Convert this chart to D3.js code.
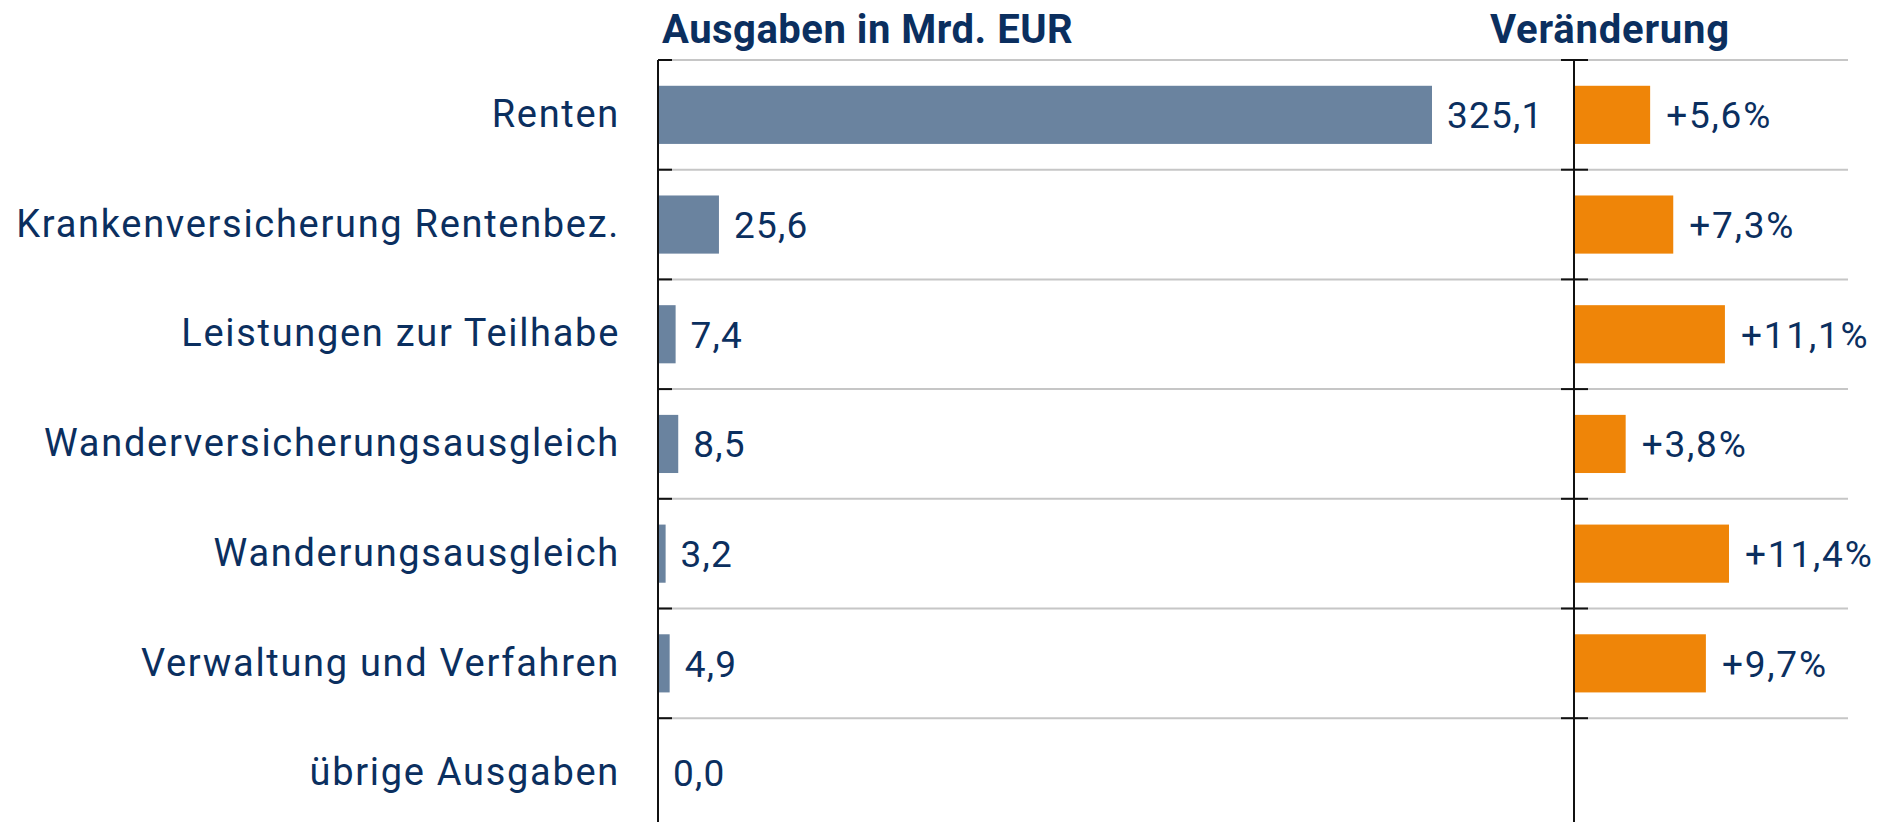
<!DOCTYPE html>
<html>
<head>
<meta charset="utf-8">
<script src="https://cdn.jsdelivr.net/npm/d3@7"></script>
<style>
  body { margin: 0; background: #fff; }
  text { font-family: Roboto, "Noto Sans", sans-serif; }
</style>
</head>
<body>
<div id="chart"></div>
<script>
// Daten
const kategorien = ["Renten", "Krankenversicherung Rentenbez.", "Leistungen zur Teilhabe",
  "Wanderversicherungsausgleich", "Wanderungsausgleich", "Verwaltung und Verfahren", "übrige Ausgaben"];
const ausgaben = [325.1, 25.6, 7.4, 8.5, 3.2, 4.9, 0.0];
const veraenderung = [5.6, 7.3, 11.1, 3.8, 11.4, 9.7, null];
const titelLinks = "Ausgaben in Mrd. EUR";
const titelRechts = "Veränderung";

const width = 1879, height = 822;
const blau = "#0b2f5f";
const haut = 60, bandH = 109.7;
const xLinks = 658, xRechts = 1574, gridEnde = 1848;

const svg = d3.select("#chart").append("svg")
  .attr("width", width)
  .attr("height", height);

const echelleY = d3.scaleBand()
  .domain(kategorien)
  .range([haut, haut + bandH * kategorien.length])
  .paddingInner(0.47).paddingOuter(0.235);

const echelleX = d3.scaleLinear().domain([0, 325.1]).range([xLinks, 1432]);
const echelleP = d3.scaleLinear().domain([0, 11.4]).range([xRechts, 1729]);

const grenzen = d3.range(kategorien.length).map(i => haut + i * bandH);

// Gitterlinien
svg.append("g").selectAll("line").data(grenzen).join("line")
  .attr("x1", xLinks).attr("x2", gridEnde)
  .attr("y1", d => d).attr("y2", d => d)
  .attr("stroke", "#c6c6c6").attr("stroke-width", 2);

// Balken links
svg.append("g").selectAll("rect").data(ausgaben).join("rect")
  .attr("x", xLinks)
  .attr("y", (d, i) => echelleY(kategorien[i]))
  .attr("width", d => echelleX(d) - xLinks)
  .attr("height", echelleY.bandwidth())
  .attr("fill", "#6a839f");

svg.append("g").selectAll("text").data(ausgaben).join("text")
  .attr("x", d => echelleX(d) + 15)
  .attr("y", (d, i) => echelleY(kategorien[i]) + echelleY.bandwidth() / 2)
  .attr("dy", "0.36em")
  .attr("font-size", 37)
  .attr("letter-spacing", "1.2px")
  .attr("fill", blau)
  .text(d => d3.format(".1f")(d).replace(".", ","));

// Balken rechts
const rechts = veraenderung.map((v, i) => ({ v, k: kategorien[i] })).filter(d => d.v != null);
svg.append("g").selectAll("rect").data(rechts).join("rect")
  .attr("x", xRechts)
  .attr("y", d => echelleY(d.k))
  .attr("width", d => echelleP(d.v) - xRechts)
  .attr("height", echelleY.bandwidth())
  .attr("fill", "#ef8508");

svg.append("g").selectAll("text").data(rechts).join("text")
  .attr("x", d => echelleP(d.v) + 16)
  .attr("y", d => echelleY(d.k) + echelleY.bandwidth() / 2)
  .attr("dy", "0.36em")
  .attr("font-size", 37)
  .attr("letter-spacing", "1.8px")
  .attr("fill", blau)
  .text(d => "+" + d3.format(".1f")(d.v).replace(".", ",") + "%");

// Achse links mit Kategorien
const axeY = d3.axisLeft(echelleY).tickSize(0).tickPadding(38);
const gAxe = svg.append("g").attr("transform", "translate(" + xLinks + ",0)").call(axeY);
gAxe.select(".domain").remove();
gAxe.selectAll("text").attr("font-size", 38).attr("fill", blau)
  .attr("letter-spacing", "1.7px").style("font-family", "Roboto");

svg.append("line").attr("x1", xLinks).attr("x2", xLinks).attr("y1", haut).attr("y2", height)
  .attr("stroke", "#111").attr("stroke-width", 2);
svg.append("g").selectAll("line").data(grenzen).join("line")
  .attr("x1", xLinks).attr("x2", xLinks + 14)
  .attr("y1", d => d).attr("y2", d => d)
  .attr("stroke", "#111").attr("stroke-width", 2);

// Achse rechts
svg.append("line").attr("x1", xRechts).attr("x2", xRechts).attr("y1", haut).attr("y2", height)
  .attr("stroke", "#111").attr("stroke-width", 2);
svg.append("g").selectAll("line").data(grenzen).join("line")
  .attr("x1", xRechts - 13).attr("x2", xRechts + 14)
  .attr("y1", d => d).attr("y2", d => d)
  .attr("stroke", "#111").attr("stroke-width", 2);

// Titel
svg.append("text").attr("x", 662).attr("y", 43)
  .attr("font-size", 40).attr("font-weight", "bold").attr("fill", blau)
  .attr("letter-spacing", "0.5px")
  .text(titelLinks);
svg.append("text").attr("x", 1490).attr("y", 43)
  .attr("font-size", 40).attr("font-weight", "bold").attr("fill", blau)
  .attr("letter-spacing", "0.8px")
  .text(titelRechts);
</script>
</body>
</html>
